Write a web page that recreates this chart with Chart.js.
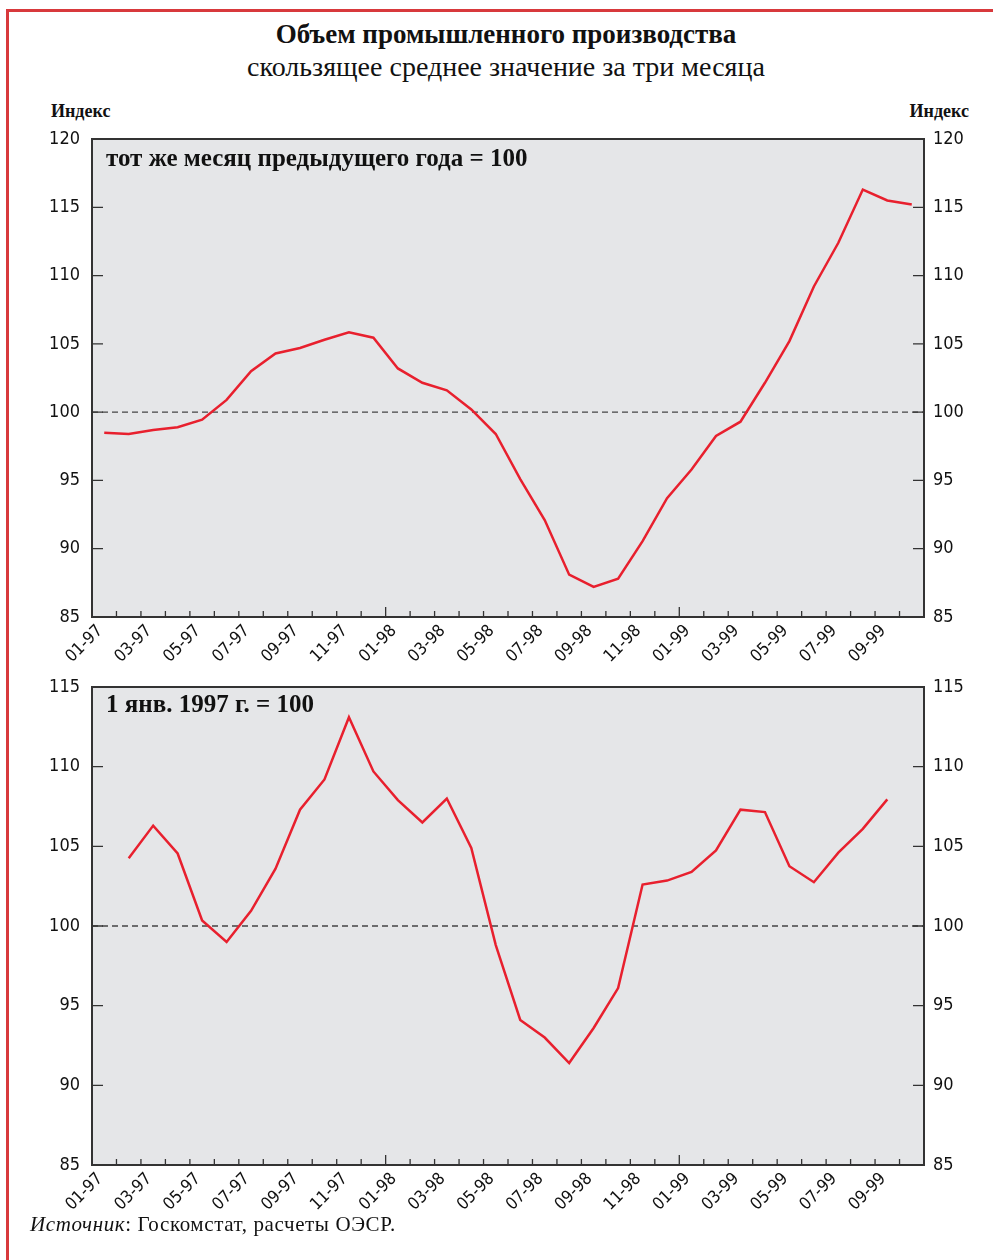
<!DOCTYPE html>
<html lang="ru">
<head>
<meta charset="utf-8">
<title>Объем промышленного производства</title>
<script src="https://cdn.jsdelivr.net/npm/chart.js@4"></script>
<style>
  body { margin: 0; background: #fff; }
  #page { position: relative; width: 993px; height: 1260px; overflow: hidden; background: #fff; }
  #frame { position: absolute; left: 6px; top: 9px; right: 0; bottom: 0; border-left: 3px solid #d8393c; border-top: 3px solid #d8393c; }
  .serif { font-family: 'Liberation Serif', 'Times New Roman', serif; color: #111; position: absolute; white-space: nowrap; }
  #title { left: 0; width: 1012px; top: 19px; text-align: center; font-size: 27px; font-weight: bold; }
  #subtitle { left: 0; width: 1012px; top: 51px; text-align: center; font-size: 28px; }
  .unit { font-family: 'Liberation Serif', serif; font-weight: bold; font-size: 18px; position: absolute; top: 101px; color: #111; }
  .note { font-weight: bold; font-size: 25px; left: 106px; }
  #source { left: 30px; top: 1212px; font-size: 21px; letter-spacing: 0.6px; }
  canvas { position: absolute; left: 0; }
</style>
</head>
<body>
<div id="page">
  <div id="frame"></div>
  <div id="title" class="serif">Объем промышленного производства</div>
  <div id="subtitle" class="serif">скользящее среднее значение за три месяца</div>
  <div class="unit" style="left:51px">Индекс</div>
  <div class="unit" style="right:24px">Индекс</div>
  <canvas id="chartTop" style="top:0px" width="993" height="680"></canvas>
  <canvas id="chartBottom" style="top:660px" width="993" height="560"></canvas>
  <div class="serif note" style="top:144px">тот же месяц предыдущего года = 100</div>
  <div class="serif note" style="top:690px">1 янв. 1997 г. = 100</div>
  <div id="source" class="serif"><i>Источник</i>: Госкомстат, расчеты ОЭСР.</div>
</div>
<script>
// месяцы 01-97 ... 10-99
const months = ['01-97','02-97','03-97','04-97','05-97','06-97','07-97','08-97','09-97','10-97','11-97','12-97',
                '01-98','02-98','03-98','04-98','05-98','06-98','07-98','08-98','09-98','10-98','11-98','12-98',
                '01-99','02-99','03-99','04-99','05-99','06-99','07-99','08-99','09-99','10-99'];

// тот же месяц предыдущего года = 100
const yoyValues = [98.5, 98.4, 98.7, 98.9, 99.45, 100.9, 103.0, 104.3, 104.7, 105.3, 105.85, 105.45,
                   103.2, 102.15, 101.6, 100.2, 98.4, 95.1, 92.1, 88.1, 87.2, 87.8, 90.55, 93.7,
                   95.8, 98.25, 99.3, 102.15, 105.2, 109.2, 112.4, 116.3, 115.5, 115.2];

// 1 янв. 1997 г. = 100
const janValues = [null, 104.25, 106.3, 104.55, 100.35, 99.0, 100.95, 103.6, 107.3, 109.2, 113.1, 109.7,
                   107.9, 106.5, 108.0, 104.9, 98.8, 94.1, 93.0, 91.4, 93.6, 96.1, 102.6, 102.85,
                   103.4, 104.75, 107.3, 107.15, 103.75, 102.75, 104.6, 106.1, 107.95, null];

const topTicks = [85, 90, 95, 100, 105, 110, 115, 120];
const bottomTicks = [85, 90, 95, 100, 105, 110, 115];

const tickFamily = "'Liberation Sans Narrow', 'DejaVu Sans Condensed', Arial, sans-serif";

// фон, пунктир на 100, рамка и засечки
const framePlugin = {
  id: 'frame',
  beforeDraw(chart) {
    const a = chart.chartArea, ctx = chart.ctx;
    ctx.save();
    ctx.fillStyle = '#e5e6e8';
    ctx.fillRect(a.left, a.top, a.right - a.left, a.bottom - a.top);
    ctx.restore();
  },
  beforeDatasetsDraw(chart) {
    const a = chart.chartArea, ctx = chart.ctx;
    const y = chart.scales.y.getPixelForValue(100);
    ctx.save();
    ctx.strokeStyle = '#444';
    ctx.lineWidth = 1.4;
    ctx.setLineDash([6, 4]);
    ctx.beginPath();
    ctx.moveTo(a.left, y);
    ctx.lineTo(a.right, y);
    ctx.stroke();
    ctx.restore();
  },
  afterDraw(chart) {
    const a = chart.chartArea, ctx = chart.ctx;
    const xs = chart.scales.x, ys = chart.scales.y;
    ctx.save();
    ctx.strokeStyle = '#333';
    ctx.lineWidth = 1.3;
    ctx.beginPath();
    for (let i = 1; i < months.length; i++) {
      const x = (xs.getPixelForValue(i - 1) + xs.getPixelForValue(i)) / 2;
      const len = months[i].startsWith('01-') ? 10 : 6;
      ctx.moveTo(x, a.bottom);
      ctx.lineTo(x, a.bottom - len);
    }
    ys.ticks.forEach(t => {
      const y = ys.getPixelForValue(t.value);
      ctx.moveTo(a.left, y); ctx.lineTo(a.left + 11, y);
      ctx.moveTo(a.right, y); ctx.lineTo(a.right - 11, y);
    });
    ctx.stroke();
    ctx.lineWidth = 2;
    ctx.strokeRect(a.left, a.top, a.right - a.left, a.bottom - a.top);
    ctx.restore();
  }
};

function makeChart(id, values, ticks, padTop, xHeight) {
  const yScale = (pos, width, pad) => ({
    position: pos,
    min: ticks[0],
    max: ticks[ticks.length - 1],
    grid: { display: false, drawTicks: false },
    border: { display: false },
    ticks: { stepSize: 5, color: '#111', font: { family: tickFamily, size: 18 }, padding: pad },
    afterFit(s) { s.width = width; }
  });
  return new Chart(document.getElementById(id), {
    type: 'line',
    data: {
      labels: months,
      datasets: [{
        data: values,
        borderColor: '#e8202e',
        borderWidth: 2.5,
        pointRadius: 0,
        tension: 0,
        fill: false
      }]
    },
    plugins: [framePlugin],
    options: {
      responsive: false,
      animation: false,
      layout: { padding: { top: padTop, left: 0, right: 0, bottom: 0 } },
      plugins: { legend: { display: false }, tooltip: { enabled: false } },
      scales: {
        x: {
          type: 'category',
          offset: true,
          grid: { display: false, drawTicks: false },
          border: { display: false },
          ticks: {
            autoSkip: false,
            minRotation: 45,
            maxRotation: 45,
            padding: 4,
            labelOffset: -4,
            color: '#111',
            font: { family: tickFamily, size: 17 },
            callback: (v, i) => (i % 2 === 0 ? months[i] : '')
          },
          afterFit(s) { s.height = xHeight; }
        },
        y: yScale('left', 92, 12),
        y2: yScale('right', 69, 9)
      }
    }
  });
}

makeChart('chartTop', yoyValues, topTicks, 139, 63);
makeChart('chartBottom', janValues, bottomTicks, 27, 55);
</script>
</body>
</html>
